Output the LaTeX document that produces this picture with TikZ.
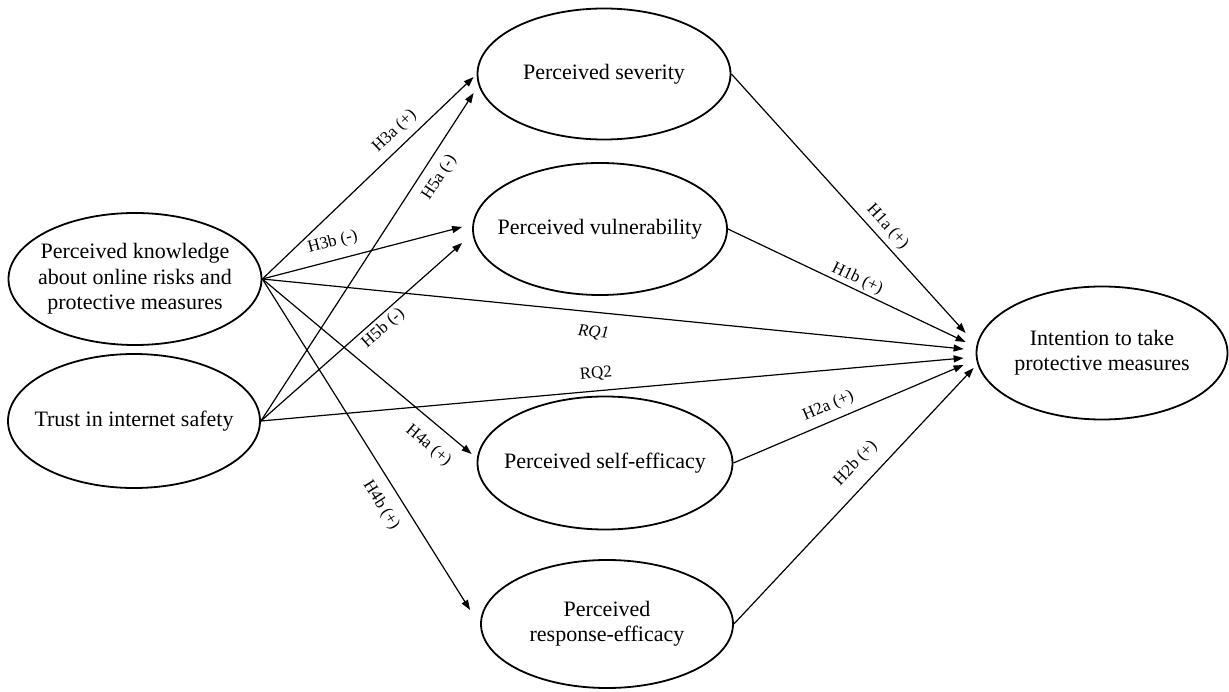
\documentclass[tikz,border=0pt]{standalone}
\usepackage{fontspec}
\setmainfont{Liberation Serif}
\usetikzlibrary{arrows.meta,calc,shapes.geometric}
\newcommand{\elltext}[1]{\makebox[0pt]{\begin{tabular}{@{}c@{}}#1\end{tabular}}}
\begin{document}
\begin{tikzpicture}[x=1pt,y=-1pt,
  ell/.style={ellipse,draw,line width=1.8pt,minimum width=253pt,minimum height=132pt,inner sep=0pt,font=\fontsize{22}{25.5}\selectfont},
  conn/.style={line width=1.2pt,-{Triangle[length=10pt,width=7pt]}},
  lab/.style={font=\fontsize{17}{19}\selectfont,sloped,inner sep=0pt}]
\useasboundingbox (0,0) rectangle (1229,692);
\node[ell] (know) at (135,279) {\elltext{Perceived knowledge\\about online risks and\\protective measures}};
\node[ell,minimum height=134pt,minimum width=252pt] (trust) at (134,421) {\elltext{Trust in internet safety}};
\node[ell,minimum height=131pt] (sev) at (604,74) {\elltext{Perceived severity}};
\node[ell,minimum width=254pt] (vul) at (600,229) {\elltext{Perceived vulnerability}};
\node[ell,minimum width=255pt,minimum height=133pt] (self) at (605,463) {\elltext{Perceived self-efficacy}};
\node[ell,minimum width=252pt,minimum height=128pt] (resp) at (607,624) {\elltext{Perceived\\response-efficacy}};
\node[ell,minimum width=251pt,minimum height=133pt] (int) at (1102,353) {\elltext{Intention to take\\protective measures}};
\coordinate (sevA) at ($(sev.west)+(-3,3)$);
\coordinate (sevB) at ($(sev.west)+(-3,19)$);
\coordinate (vulA) at ($(vul.west)+(-10,-2)$);
\coordinate (vulB) at ($(vul.west)+(-10,14)$);
\coordinate (selfA) at ($(self.west)+(-5,-9)$);
\coordinate (respA) at ($(resp.west)+(-10,-14)$);
\coordinate (intA) at ($(int.west)+(-10,-20)$);
\coordinate (intB) at ($(int.west)+(-10,-11)$);
\coordinate (intC) at ($(int.west)+(-12,-4)$);
\coordinate (intD) at ($(int.west)+(-12,5)$);
\coordinate (intE) at ($(int.west)+(-12,12)$);
\coordinate (intF) at ($(int.west)+(-2,15)$);
\draw[conn] (know.east) -- node[lab,pos=0.676,above=7pt]{H3a (+)} (sevA);
\draw[conn] (trust.east) -- node[lab,pos=0.771,below=9pt]{H5a (-)} (sevB);
\draw[conn] (know.east) -- node[lab,pos=0.375,above=9.5pt]{H3b (-)} (vulA);
\draw[conn] (trust.east) -- node[lab,pos=0.57,below=3.5pt]{H5b (-)} (vulB);
\draw[conn] (know.east) -- node[lab,pos=0.858,below=13pt]{H4a (+)} (selfA);
\draw[conn] (know.east) -- node[lab,pos=0.652,below=11.5pt]{H4b (+)} (respA);
\draw[conn] (know.east) -- node[lab,pos=0.475,below=13pt]{\itshape RQ1} (intC);
\draw[conn] (trust.east) -- node[lab,pos=0.479,above=9.5pt]{RQ2} (intD);
\draw[conn] (sev.east) -- node[lab,pos=0.624,above=5pt]{H1a (+)} (intA);
\draw[conn] (vul.east) -- node[lab,pos=0.525,above=2pt]{H1b (+)} (intB);
\draw[conn] (self.east) -- node[lab,pos=0.438,above=6.5pt]{H2a (+)} (intE);
\draw[conn] (resp.east) -- node[lab,pos=0.572,above=12.5pt]{H2b (+)} (intF);
\end{tikzpicture}
\end{document}
